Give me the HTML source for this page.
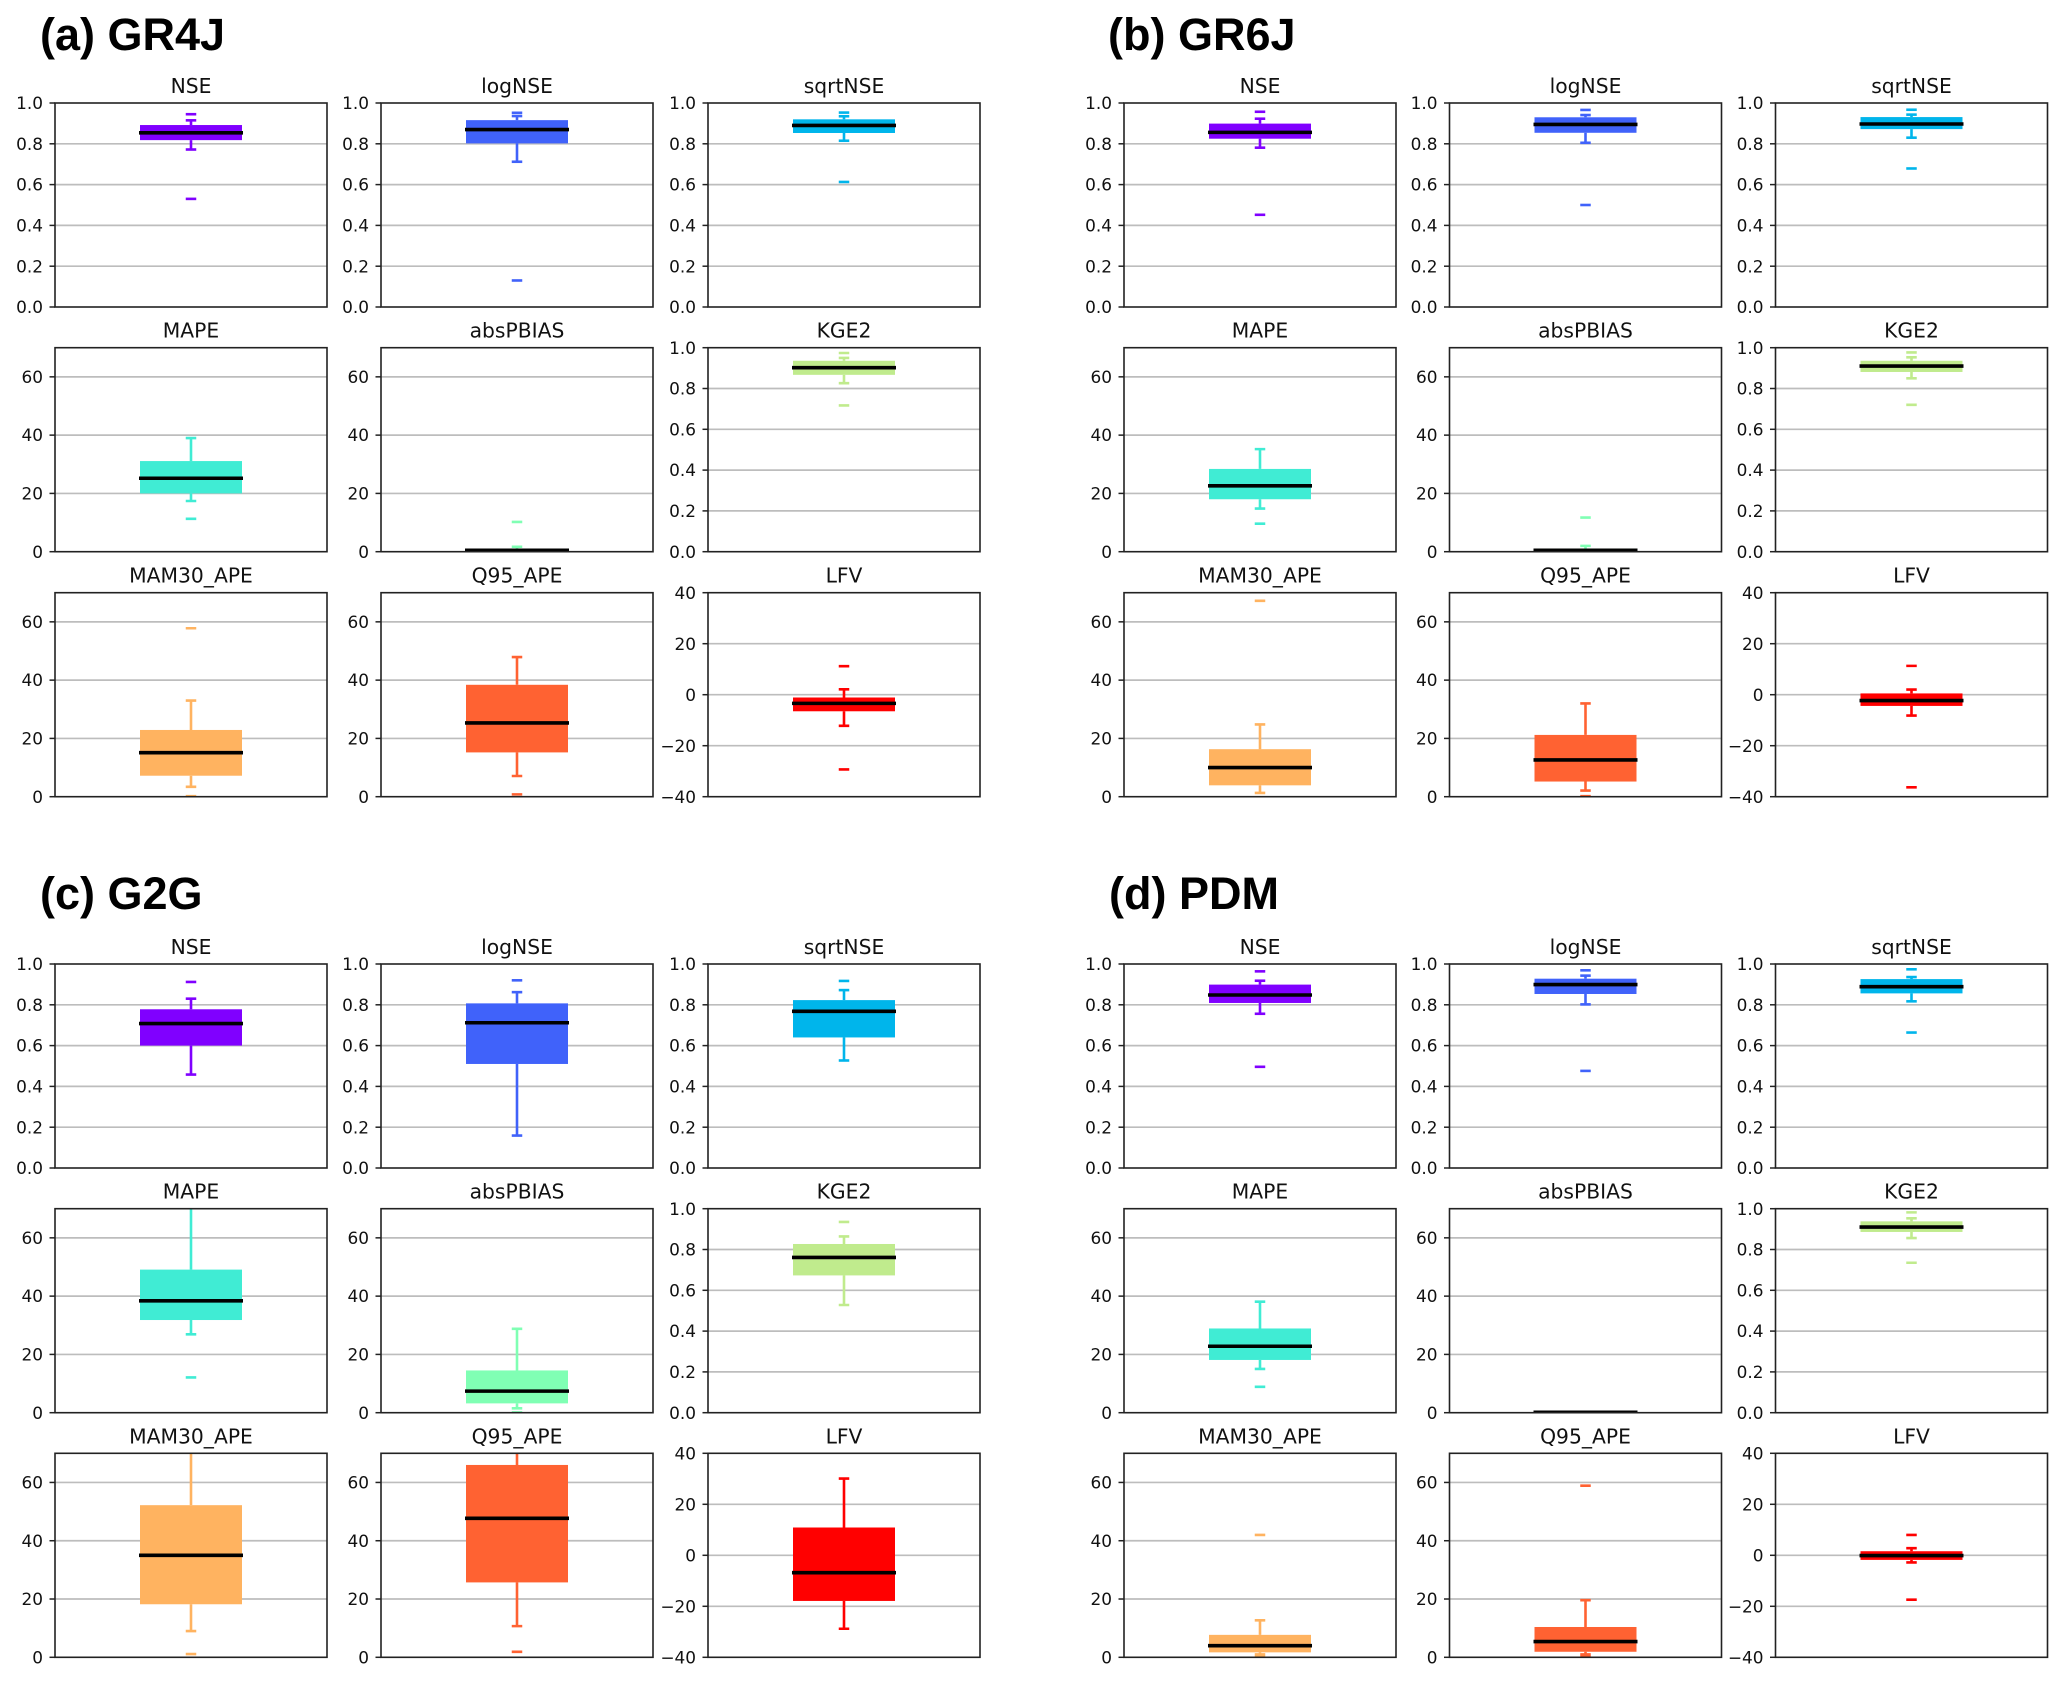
<!DOCTYPE html>
<html lang="en">
<head>
<meta charset="utf-8">
<title>Hydrological model performance boxplots</title>
<style>
  html, body { margin: 0; padding: 0; background: #ffffff; }
  svg { display: block; filter: blur(0.35px); }
  .panel-heading { font-family: "Liberation Sans", Arial, sans-serif; font-weight: 700; font-size: 45px; fill: #000; }
  .subplot-title { font-family: "DejaVu Sans", sans-serif; font-size: 20.3px; fill: #111; text-anchor: middle; }
  .tick-label { font-family: "DejaVu Sans", sans-serif; font-size: 16.9px; fill: #111; text-anchor: end; }
</style>
</head>
<body>
<svg id="figure" xmlns="http://www.w3.org/2000/svg" width="2067" height="1682" viewBox="0 0 2067 1682">
  <rect x="0" y="0" width="2067" height="1682" fill="#ffffff"></rect>
  <text class="panel-heading" x="40" y="50">(a) GR4J</text>
  <text class="panel-heading" x="1108" y="50">(b) GR6J</text>
  <text class="panel-heading" x="40" y="909">(c) G2G</text>
  <text class="panel-heading" x="1109" y="909">(d) PDM</text>
</svg>
<script>
// ---- categories ----
const metricNames = ["NSE", "logNSE", "sqrtNSE", "MAPE", "absPBIAS", "KGE2", "MAM30_APE", "Q95_APE", "LFV"];
const metricSlugs = ["nse", "lognse", "sqrtnse", "mape", "abspbias", "kge2", "mam30-ape", "q95-ape", "lfv"];
const metricColors = ["#8000ff", "#4062fa", "#00b5eb", "#40ecd4", "#80ffb4", "#c0eb8d", "#ffb360", "#ff6232", "#ff0000"];
const modelSlugs = ["gr4j", "gr6j", "g2g", "pdm"];

// ---- axis limits and tick labels ----
const unitTicks = [0, 0.2, 0.4, 0.6, 0.8, 1.0];
const unitTickLabels = ["0.0", "0.2", "0.4", "0.6", "0.8", "1.0"];
const percentTicks = [0, 20, 40, 60];
const percentTickLabels = ["0", "20", "40", "60"];
const lfvTicks = [-40, -20, 0, 20, 40];
const lfvTickLabels = ["\u221240", "\u221220", "0", "20", "40"];
const metricAxis = ["unit", "unit", "unit", "percent", "percent", "unit", "percent", "percent", "lfv"];
const unitLimits = [0, 1];
const percentLimits = [0, 70];
const lfvLimits = [-40, 40];

// ---- series values, in metricNames order ----
const gr4jLow  = [0.772, 0.712, 0.815, 17.4, 0, 0.826, 3.4, 7.1, -12.2];
const gr4jQ1   = [0.818, 0.802, 0.853, 20, 0.1, 0.867, 7.2, 15.2, -6.5];
const gr4jMed  = [0.854, 0.87, 0.89, 25.2, 0.5, 0.902, 15.1, 25.3, -3.4];
const gr4jQ3   = [0.892, 0.916, 0.92, 31.1, 0.9, 0.936, 22.9, 38.4, -1.1];
const gr4jHigh = [0.915, 0.936, 0.935, 39, 1.7, 0.95, 33, 47.9, 2.1];
const gr4jFliers = [[0.945, 0.53], [0.952, 0.13], [0.953, 0.613], [11.3], [10.2], [0.974, 0.717], [57.8, 0.2], [0.8], [11.2, -29.3]];

const gr6jLow  = [0.781, 0.805, 0.83, 14.8, 0, 0.85, 1.3, 2.1, -8.2];
const gr6jQ1   = [0.825, 0.854, 0.872, 18, 0.1, 0.881, 3.9, 5.2, -4.4];
const gr6jMed  = [0.856, 0.895, 0.897, 22.6, 0.5, 0.91, 10, 12.6, -2.3];
const gr6jQ3   = [0.899, 0.93, 0.931, 28.4, 1.1, 0.936, 16.3, 21.2, 0.5];
const gr6jHigh = [0.923, 0.941, 0.943, 35.2, 2, 0.953, 24.8, 32, 2];
const gr6jFliers = [[0.957, 0.452], [0.966, 0.5], [0.967, 0.679], [9.6], [11.7], [0.977, 0.72], [67.2], [0.2], [11.3, -36.3]];

const g2gLow  = [0.458, 0.159, 0.527, 26.9, 1.5, 0.528, 9, 10.7, -28.8];
const g2gQ1   = [0.6, 0.51, 0.64, 31.8, 3.2, 0.673, 18.2, 25.7, -17.9];
const g2gMed  = [0.708, 0.712, 0.768, 38.4, 7.4, 0.761, 35, 47.7, -6.8];
const g2gQ3   = [0.778, 0.807, 0.823, 49.1, 14.5, 0.827, 52.2, 66, 10.9];
const g2gHigh = [0.83, 0.862, 0.872, 75, 28.8, 0.864, 75, 75, 30.1];
const g2gFliers = [[0.912], [0.92], [0.917], [12.1], [0.1], [0.935], [1.1], [1.9], []];

const pdmLow  = [0.756, 0.802, 0.817, 15, 0, 0.856, 1, 1, -2.8];
const pdmQ1   = [0.809, 0.853, 0.856, 18.1, 0, 0.886, 1.7, 1.9, -1.8];
const pdmMed  = [0.848, 0.899, 0.889, 22.8, 0.15, 0.91, 4, 5.4, -0.1];
const pdmQ3   = [0.899, 0.928, 0.926, 28.9, 0.3, 0.938, 7.7, 10.4, 1.6];
const pdmHigh = [0.918, 0.943, 0.936, 38.1, 0.3, 0.953, 12.7, 19.6, 2.8];
const pdmFliers = [[0.964, 0.496], [0.969, 0.476], [0.974, 0.664], [8.9], [], [0.982, 0.735], [42, 0.2], [58.9, 0.2], [8, -17.4]];

const lowSeries = [gr4jLow, gr6jLow, g2gLow, pdmLow];
const q1Series = [gr4jQ1, gr6jQ1, g2gQ1, pdmQ1];
const medSeries = [gr4jMed, gr6jMed, g2gMed, pdmMed];
const q3Series = [gr4jQ3, gr6jQ3, g2gQ3, pdmQ3];
const highSeries = [gr4jHigh, gr6jHigh, g2gHigh, pdmHigh];
const flierSeries = [gr4jFliers, gr6jFliers, g2gFliers, pdmFliers];

// ---- layout (not data) ----
const SVG_NS = "http://www.w3.org/2000/svg";
const figure = document.getElementById("figure");
const AXIS_W = 272;
const AXIS_H = 204;
const BOX_FRACTION = 0.375;
const CAP_W = 10.5;
const INK = "#222222";
const GRID = "#bdbdbd";
const MARK_STROKE = 2.6;

function columnLeft(modelIndex, col) {
  const west = [55, 381, 708];
  const east = [1124, 1449.5, 1775.5];
  return (modelIndex % 2 === 0 ? west : east)[col];
}
function rowTop(modelIndex, row) {
  const upper = [103, 347.7, 592.7];
  const lower = [964, 1208.7, 1453.3];
  return (modelIndex < 2 ? upper : lower)[row];
}
function limitsFor(metricIndex) {
  const kind = metricAxis[metricIndex];
  return kind === "unit" ? unitLimits : kind === "percent" ? percentLimits : lfvLimits;
}
function ticksFor(metricIndex) {
  const kind = metricAxis[metricIndex];
  return kind === "unit" ? unitTicks : kind === "percent" ? percentTicks : lfvTicks;
}
function tickLabelsFor(metricIndex) {
  const kind = metricAxis[metricIndex];
  return kind === "unit" ? unitTickLabels : kind === "percent" ? percentTickLabels : lfvTickLabels;
}
function yScale(value, limits, top) {
  return top + AXIS_H * (1 - (value - limits[0]) / (limits[1] - limits[0]));
}
function make(tag, parent, attrs) {
  const el = document.createElementNS(SVG_NS, tag);
  for (const key in attrs) el.setAttribute(key, attrs[key]);
  parent.appendChild(el);
  return el;
}

function drawSubplot(modelIndex, metricIndex) {
  const col = metricIndex % 3;
  const row = Math.floor(metricIndex / 3);
  const left = columnLeft(modelIndex, col);
  const top = rowTop(modelIndex, row);
  const cx = left + AXIS_W / 2;
  const limits = limitsFor(metricIndex);
  const color = metricColors[metricIndex];
  const slug = modelSlugs[modelIndex] + "-" + metricSlugs[metricIndex];
  const y = function (v) { return yScale(v, limits, top); };

  const group = make("g", figure, {});
  
  

  const clip = make("clipPath", group, { id: "clip-" + slug });
  make("rect", clip, { x: left, y: top, width: AXIS_W, height: AXIS_H });

  const title = make("text", group, { class: "subplot-title", x: cx, y: top - 10 });
  title.textContent = metricNames[metricIndex];
  
  

  const ticks = ticksFor(metricIndex);
  const labels = tickLabelsFor(metricIndex);
  ticks.forEach(function (tick, i) {
    const ty = y(tick);
    if (tick !== limits[0] && tick !== limits[1]) {
      const grid = make("line", group, { x1: left, x2: left + AXIS_W, y1: ty, y2: ty, stroke: GRID, "stroke-width": 1.7 });
      
      
    }
    const mark = make("line", group, { x1: left - 5.5, x2: left, y1: ty, y2: ty, stroke: INK, "stroke-width": 1.5 });
    
    
    const label = make("text", group, { class: "tick-label", x: left - 12, y: ty + 6.1 });
    label.textContent = labels[i];
    
    
  });

  const marks = make("g", group, { "clip-path": "url(#clip-" + slug + ")" });
  
  

  const low = lowSeries[modelIndex][metricIndex];
  const q1 = q1Series[modelIndex][metricIndex];
  const med = medSeries[modelIndex][metricIndex];
  const q3 = q3Series[modelIndex][metricIndex];
  const high = highSeries[modelIndex][metricIndex];

  const whiskerLow = make("line", marks, { x1: cx, x2: cx, y1: y(q1), y2: y(low), stroke: color, "stroke-width": MARK_STROKE });
  
  
  const whiskerHigh = make("line", marks, { x1: cx, x2: cx, y1: y(q3), y2: y(high), stroke: color, "stroke-width": MARK_STROKE });
  
  
  const capLow = make("line", marks, { x1: cx - CAP_W / 2, x2: cx + CAP_W / 2, y1: y(low), y2: y(low), stroke: color, "stroke-width": MARK_STROKE });
  
  
  const capHigh = make("line", marks, { x1: cx - CAP_W / 2, x2: cx + CAP_W / 2, y1: y(high), y2: y(high), stroke: color, "stroke-width": MARK_STROKE });
  
  

  const boxW = AXIS_W * BOX_FRACTION;
  const body = make("rect", marks, { x: cx - boxW / 2, y: y(q3), width: boxW, height: y(q1) - y(q3), fill: color });
  
  

  const median = make("line", marks, { x1: cx - boxW / 2 - 1, x2: cx + boxW / 2 + 1, y1: y(med), y2: y(med), stroke: "#000000", "stroke-width": 3.6 });
  
  

  flierSeries[modelIndex][metricIndex].forEach(function (value) {
    const flier = make("line", marks, { x1: cx - CAP_W / 2, x2: cx + CAP_W / 2, y1: y(value), y2: y(value), stroke: color, "stroke-width": MARK_STROKE });
    
    
  });

  const frame = make("rect", group, { x: left, y: top, width: AXIS_W, height: AXIS_H, fill: "none", stroke: INK, "stroke-width": 1.6 });
  
  
}

modelSlugs.forEach(function (_, modelIndex) {
  metricNames.forEach(function (_, metricIndex) {
    drawSubplot(modelIndex, metricIndex);
  });
});
</script>
</body>
</html>
